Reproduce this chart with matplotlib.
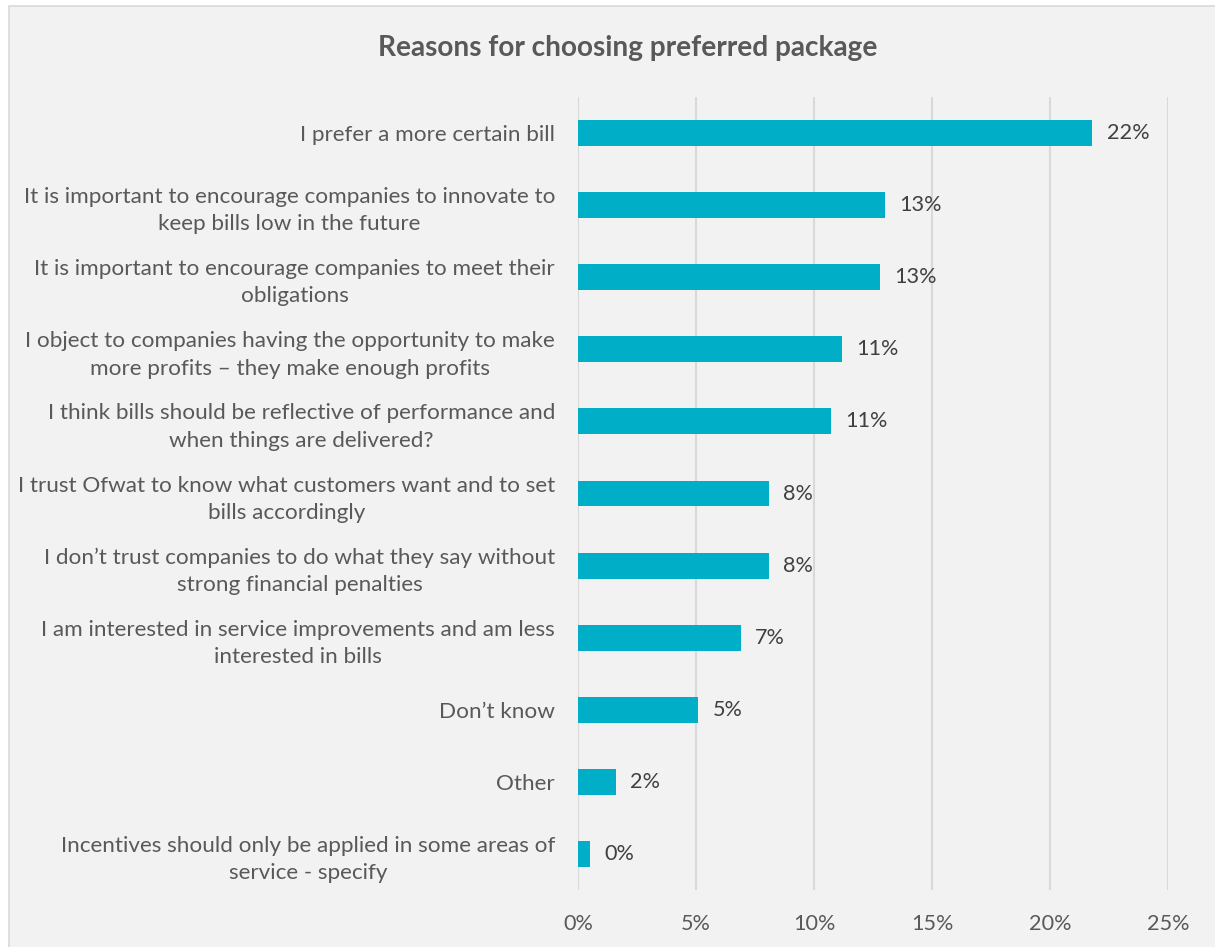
import matplotlib
matplotlib.use("Agg")
import matplotlib.pyplot as plt
from matplotlib.patches import Rectangle

categories = [
    "I prefer a more certain bill",
    "It is important to encourage companies to innovate to\nkeep bills low in the future",
    "It is important to encourage companies to meet their\nobligations",
    "I object to companies having the opportunity to make\nmore profits \u2013 they make enough profits",
    "I think bills should be reflective of performance and\nwhen things are delivered?",
    "I trust Ofwat to know what customers want and to set\nbills accordingly",
    "I don\u2019t trust companies to do what they say without\nstrong financial penalties",
    "I am interested in service improvements and am less\ninterested in bills",
    "Don\u2019t know",
    "Other",
    "Incentives should only be applied in some areas of\nservice - specify",
]
values = [21.8, 13.0, 12.8, 11.2, 10.7, 8.1, 8.1, 6.9, 5.1, 1.6, 0.5]
xticks = [0, 5, 10, 15, 20, 25]

FONT = "Lato"
BG = "#F2F2F2"
BAR = "#00AEC7"
TXT = "#595959"
LBL = "#404040"
GRID = "#D9D9D9"

W, H = 1215, 947
fig = plt.figure(figsize=(W / 100, H / 100), dpi=100)
fig.patch.set_facecolor("white")

# chart area panel
fig.patches.append(Rectangle((9 / W, -0.01), 1 - 9 / W + 0.01, 1 - 6 / H + 0.01,
                             transform=fig.transFigure, facecolor=BG,
                             edgecolor=GRID, linewidth=1.2, zorder=-5))

ax = fig.add_axes([578 / W, 57 / H, 590 / W, 793 / H])
ax.patch.set_visible(False)

y = list(range(len(categories)))
ax.barh(y, values, height=0.36, color=BAR, zorder=3)
ax.set_ylim(len(categories) - 0.5, -0.5)
ax.set_xlim(0, 25)

for yi, v in zip(y, values):
    ax.text(v + 0.6, yi, f"{round(v):.0f}%", va="center", ha="left",
            fontsize=15.6, color=LBL, family=FONT)

ax.set_xticks(xticks)
ax.set_xticklabels([f"{t}%" for t in xticks], fontsize=15.6, color=TXT, family=FONT)
ax.set_yticks(y)
ax.set_yticklabels(categories, fontsize=16.2, color=TXT, family=FONT,
                   multialignment="center", linespacing=1.45)
ax.tick_params(axis="both", length=0)
ax.tick_params(axis="y", pad=16.5)
ax.tick_params(axis="x", pad=17)
ax.grid(axis="x", color=GRID, linewidth=1.5, zorder=0)
for s in ax.spines.values():
    s.set_visible(False)

fig.text(628 / W, 1 - 48 / H, "Reasons for choosing preferred package",
         ha="center", va="center", fontsize=20.2, fontweight="bold",
         color=TXT, family=FONT)

fig.savefig("out.png", dpi=100, facecolor=fig.get_facecolor())
